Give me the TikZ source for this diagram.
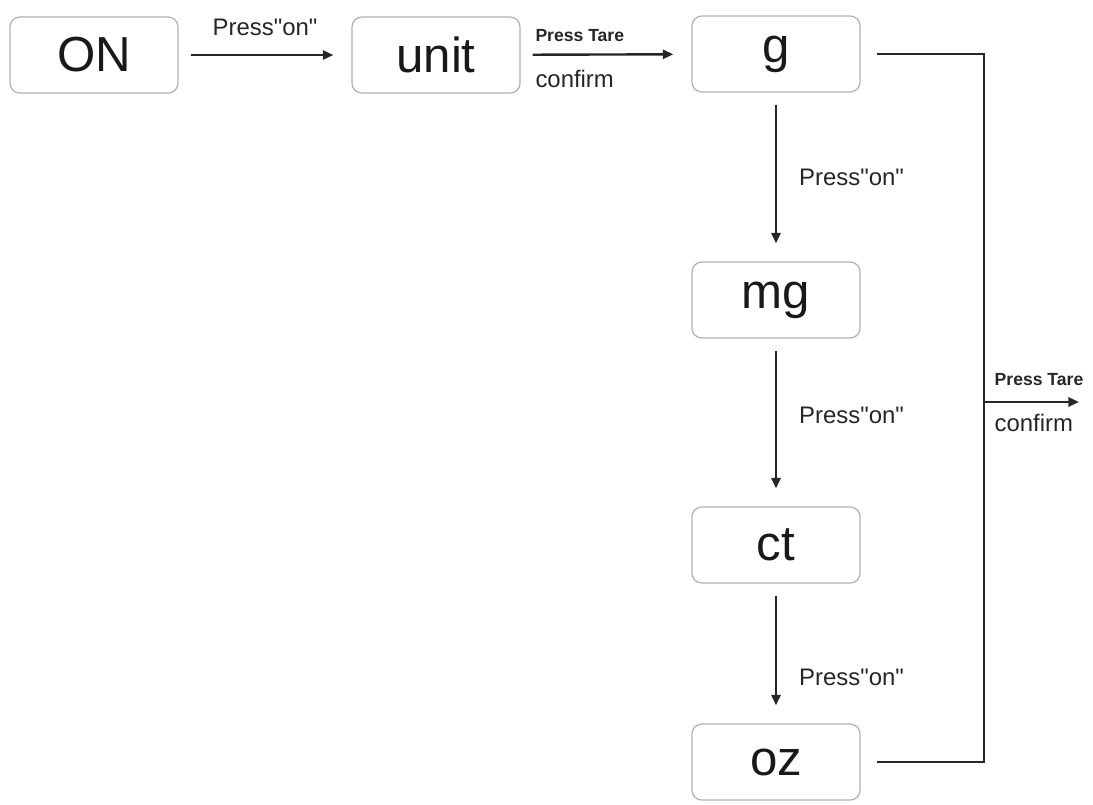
\documentclass[tikz,border=0pt]{standalone}
\usepackage{fontspec}
\setmainfont{Liberation Sans}[Ligatures=TeXOff]
\usetikzlibrary{arrows.meta}
\begin{document}
\begin{tikzpicture}[x=0.025cm,y=-0.025cm,->,>={Triangle[length=7.5pt,width=6.5pt]}]
	\tikzstyle{unitbox}=[rectangle,rounded corners=7pt,draw=black!30,line width=0.9pt,minimum width=4.2cm,minimum height=1.9cm,inner sep=0pt,font=\fontsize{35}{35}\selectfont,text=black!90]
	\tikzstyle{flow}=[line width=1.7pt,draw=black!85,shorten <=0.3cm,shorten >=0.45cm]
	\tikzstyle{weight}=[font=\fontsize{17}{17}\selectfont,text=black!85,inner sep=0pt]
	\tikzstyle{tare}=[font=\fontsize{12.5}{12.5}\selectfont\bfseries,text=black!85,inner sep=0pt]
	\useasboundingbox (0,0) rectangle (1093,804);
	\node[unitbox] (U-on) at (94,55) {ON};
	\node[unitbox] (U-unit) at (436,55) {unit};
	\node[unitbox] (U-g) at (776,54) {g};
	\node[unitbox] (U-mg) at (776,300) {mg};
	\node[unitbox] (U-ct) at (776,545) {ct};
	\node[unitbox] (U-oz) at (776,762) {oz};
	\coordinate (rail) at (984,400);
	\coordinate (tare-in) at (984,402);
	\coordinate (tare-out) at (1079,402);
	\draw[flow] (U-on) -- node[weight,above=0.45cm] {Press"on"} (U-unit);
	\draw[flow] (U-unit) -- node[tare,anchor=south west,pos=0.08,yshift=0.3cm] {Press Tare}
		node[weight,anchor=north west,pos=0.08,yshift=-0.35cm] {confirm} (U-g);
	\draw[flow] (U-g) -- node[weight,anchor=west,xshift=0.55cm] {Press"on"} (U-mg);
	\draw[flow] (U-mg) -- node[weight,anchor=west,xshift=0.55cm,pos=0.46] {Press"on"} (U-ct);
	\draw[flow] (U-ct) -- node[weight,anchor=west,xshift=0.55cm,pos=0.67] {Press"on"} (U-oz);
	\draw[flow,-,shorten >=0.4cm,shorten <=0.4cm] (U-g.east) -- (U-g.east -| rail) -- (U-oz.east -| rail) -- (U-oz.east);
	\draw[flow,shorten <=0pt,shorten >=0pt] (tare-in) -- node[tare,anchor=south west,pos=0.1,yshift=0.37cm] {Press Tare}
		node[weight,anchor=north west,pos=0.1,yshift=-0.28cm] {confirm} (tare-out);
\end{tikzpicture}
\end{document}
